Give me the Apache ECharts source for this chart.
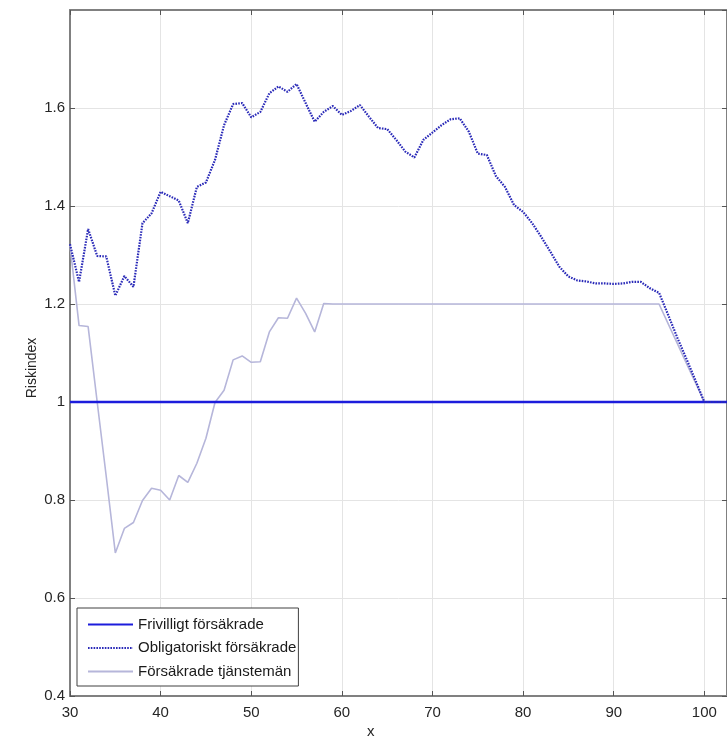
<!DOCTYPE html>
<html>
<head>
<meta charset="utf-8">
<script src="https://cdn.jsdelivr.net/npm/echarts@6/dist/echarts.min.js"></script>
<style>
  html, body { margin: 0; padding: 0; background: #ffffff; }
  #chart { width: 727px; height: 743px; }
</style>
</head>
<body>
<div id="chart"></div>
<script>
// Age (x) for every sample
const ages = [30, 31, 32, 33, 34, 35, 36, 37, 38, 39,
              40, 41, 42, 43, 44, 45, 46, 47, 48, 49,
              50, 51, 52, 53, 54, 55, 56, 57, 58, 59,
              60, 61, 62, 63, 64, 65, 66, 67, 68, 69,
              70, 71, 72, 73, 74, 75, 76, 77, 78, 79,
              80, 81, 82, 83, 84, 85, 86, 87, 88, 89,
              90, 91, 92, 93, 94, 95, 96, 97, 98, 99,
              100, 101, 102, 103];

// Frivilligt försäkrade (reference level)
const frivilligt = [1, 1, 1, 1, 1, 1, 1, 1, 1, 1,
                    1, 1, 1, 1, 1, 1, 1, 1, 1, 1,
                    1, 1, 1, 1, 1, 1, 1, 1, 1, 1,
                    1, 1, 1, 1, 1, 1, 1, 1, 1, 1,
                    1, 1, 1, 1, 1, 1, 1, 1, 1, 1,
                    1, 1, 1, 1, 1, 1, 1, 1, 1, 1,
                    1, 1, 1, 1, 1, 1, 1, 1, 1, 1,
                    1, 1, 1, 1];

// Obligatoriskt försäkrade
const obligatoriskt = [1.322, 1.245, 1.353, 1.298, 1.297, 1.217, 1.257, 1.235, 1.365, 1.385,
                       1.429, 1.420, 1.411, 1.365, 1.439, 1.448, 1.494, 1.565, 1.608, 1.610,
                       1.581, 1.592, 1.630, 1.644, 1.633, 1.649, 1.610, 1.572, 1.592, 1.604,
                       1.586, 1.594, 1.606, 1.582, 1.559, 1.557, 1.535, 1.511, 1.499, 1.535,
                       1.550, 1.565, 1.577, 1.579, 1.552, 1.507, 1.504, 1.461, 1.439, 1.402,
                       1.388, 1.365, 1.337, 1.307, 1.276, 1.256, 1.248, 1.246, 1.242, 1.242,
                       1.241, 1.242, 1.245, 1.245, 1.232, 1.223, 1.178, 1.132, 1.089, 1.045,
                       1.0, 1.0, 1.0, 1.0];

// Försäkrade tjänstemän
const tjanstemän = [1.320, 1.156, 1.154, 1.000, 0.848, 0.692, 0.742, 0.754, 0.799, 0.824,
                    0.820, 0.800, 0.850, 0.836, 0.875, 0.926, 0.999, 1.024, 1.086, 1.094,
                    1.081, 1.082, 1.143, 1.172, 1.171, 1.212, 1.181, 1.143, 1.201, 1.2,
                    1.2, 1.2, 1.2, 1.2, 1.2, 1.2, 1.2, 1.2, 1.2, 1.2,
                    1.2, 1.2, 1.2, 1.2, 1.2, 1.2, 1.2, 1.2, 1.2, 1.2,
                    1.2, 1.2, 1.2, 1.2, 1.2, 1.2, 1.2, 1.2, 1.2, 1.2,
                    1.2, 1.2, 1.2, 1.2, 1.2, 1.2, 1.16, 1.12, 1.08, 1.04,
                    1.0, 1.0, 1.0, 1.0];

const seriesNames = ['Frivilligt försäkrade', 'Obligatoriskt försäkrade', 'Försäkrade tjänstemän'];

const xRange = { min: 30, max: 102.5, interval: 10 };
const yRange = { min: 0.4, max: 1.8, interval: 0.2 };

const FONT = '"Liberation Sans", Arial, sans-serif';
const frameColor = '#808080';
const gridColor = '#e4e4e4';

function pairs(values) {
  return ages.map((a, i) => [a, values[i]]);
}

const chart = echarts.init(document.getElementById('chart'), null, { renderer: 'canvas' });

const baseAxis = {
  axisLine: { show: true, onZero: false, lineStyle: { color: frameColor, width: 2 } },
  axisTick: { show: true, inside: true, length: 5, lineStyle: { color: '#555555', width: 1 } },
};

chart.setOption({
  animation: false,
  backgroundColor: '#ffffff',
  grid: { left: 70, top: 10, width: 660, height: 686, containLabel: false },
  xAxis: [
    Object.assign({}, baseAxis, {
      type: 'value', position: 'bottom',
      min: xRange.min, max: xRange.max, interval: xRange.interval,
      axisLabel: { show: true, color: '#262626', fontFamily: FONT, fontSize: 15, margin: 9, showMaxLabel: false },
      splitLine: { show: true, lineStyle: { color: gridColor, width: 1 } }
    }),
    Object.assign({}, baseAxis, {
      type: 'value', position: 'top',
      min: xRange.min, max: xRange.max, interval: xRange.interval,
      axisLabel: { show: false },
      splitLine: { show: false }
    })
  ],
  yAxis: [
    Object.assign({}, baseAxis, {
      type: 'value', position: 'left',
      min: yRange.min, max: yRange.max, interval: yRange.interval,
      axisLabel: { show: true, color: '#262626', fontFamily: FONT, fontSize: 15, margin: 5, showMaxLabel: false },
      splitLine: { show: true, lineStyle: { color: gridColor, width: 1 } }
    }),
    Object.assign({}, baseAxis, {
      type: 'value', position: 'right',
      min: yRange.min, max: yRange.max, interval: yRange.interval,
      axisLabel: { show: false },
      splitLine: { show: false }
    })
  ],
  legend: {
    show: true,
    orient: 'vertical',
    left: 77, top: 608,
    padding: [9, 2, 7, 10],
    itemGap: 8.5,
    itemWidth: 45,
    itemHeight: 14,
    backgroundColor: '#ffffff',
    borderColor: '#404040',
    borderWidth: 1,
    itemStyle: { opacity: 0 },
    textStyle: { color: '#1a1a1a', fontFamily: FONT, fontSize: 15 },
    data: seriesNames
  },
  graphic: [
    {
      type: 'text', left: 367, top: 724,
      style: { text: 'x', fill: '#262626', font: '15px ' + FONT }
    },
    {
      type: 'text', x: 32, y: 368, rotation: Math.PI / 2,
      style: { text: 'Riskindex', fill: '#262626', font: '14px ' + FONT, textAlign: 'center', textVerticalAlign: 'middle' }
    }
  ],
  series: [
    {
      name: seriesNames[0], type: 'line', data: pairs(frivilligt),
      symbol: 'none', showSymbol: false,
      lineStyle: { color: '#1c1cdc', width: 2.5, type: 'solid' },
      itemStyle: { color: '#1c1cdc' }, z: 3
    },
    {
      name: seriesNames[1], type: 'line', data: pairs(obligatoriskt),
      symbol: 'none', showSymbol: false,
      lineStyle: { color: '#2a2ab8', width: 2.2, type: [1.6, 1.2] },
      itemStyle: { color: '#2a2ab8' }, z: 4
    },
    {
      name: seriesNames[2], type: 'line', data: pairs(tjanstemän),
      symbol: 'none', showSymbol: false,
      lineStyle: { color: '#b6b6da', width: 1.6, type: 'solid' },
      itemStyle: { color: '#b6b6da' }, z: 2
    }
  ]
});
</script>
</body>
</html>
